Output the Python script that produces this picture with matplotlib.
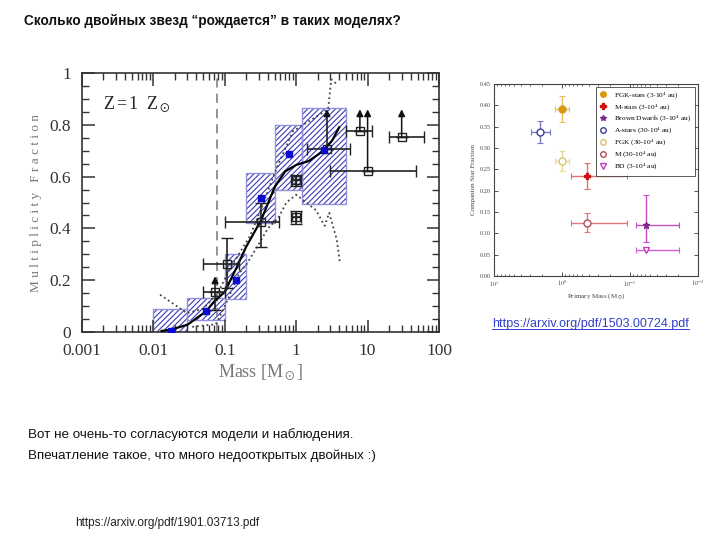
import matplotlib
matplotlib.use('Agg')
import matplotlib.pyplot as plt
from matplotlib.lines import Line2D
from matplotlib.patches import Rectangle
from matplotlib.ticker import LogLocator, NullFormatter

plt.rcParams['mathtext.fontset'] = 'stix'
plt.rcParams['hatch.linewidth'] = 0.8

# ---- left panel: simulation vs observations ----
box_x0 = [0.01, 0.03, 0.1, 0.2, 0.5, 1.2]
box_x1 = [0.03, 0.1, 0.2, 0.5, 1.2, 5.0]
box_y0 = [0.0, 0.045, 0.127, 0.42, 0.547, 0.495]
box_y1 = [0.09, 0.13, 0.30, 0.615, 0.80, 0.863]

sim_x = [0.0175, 0.0547, 0.144, 0.318, 0.783, 2.42]
sim_y = [0.003, 0.08, 0.202, 0.517, 0.688, 0.704]

fit_x = [0.013, 0.0175, 0.03, 0.0547, 0.07, 0.1, 0.144, 0.2, 0.32, 0.5, 0.7, 1.0, 1.5, 2.42, 3.2, 4.0]
fit_y = [0.004, 0.009, 0.028, 0.08, 0.116, 0.155, 0.245, 0.33, 0.43, 0.56, 0.62, 0.645, 0.66, 0.70, 0.74, 0.79]

up_x = [0.0124, 0.0212, 0.0295, 0.05, 0.08, 0.118, 0.225, 0.34, 0.5, 0.9, 2.8, 3.1, 3.8]
up_y = [0.144, 0.10, 0.073, 0.09, 0.15, 0.245, 0.37, 0.49, 0.615, 0.775, 0.86, 0.975, 0.955]

lo_x = [0.035, 0.075, 0.1, 0.16, 0.2, 0.3, 0.4, 0.56, 0.73, 1.0, 1.9, 2.5, 2.9, 3.7, 4.1]
lo_y = [0.02, 0.03, 0.1, 0.228, 0.26, 0.34, 0.40, 0.44, 0.50, 0.53, 0.47, 0.41, 0.46, 0.357, 0.266]

obs_x = [0.073, 0.106, 0.32, 1.0, 1.0, 2.7, 7.8, 10.0, 30.0]
obs_y = [0.155, 0.264, 0.425, 0.585, 0.443, 0.706, 0.775, 0.623, 0.753]
obs_xlo = [0.05, 0.05, 0.1, 0.85, 0.85, 1.4, 5.0, 3.0, 20.0]
obs_xhi = [0.1, 0.16, 0.57, 1.18, 1.18, 5.6, 11.5, 48.0, 61.0]
obs_ylo = [0.086, 0.17, 0.33, 0.565, 0.418, 0.706, 0.775, 0.623, 0.753]
obs_yhi = [0.155, 0.363, 0.50, 0.605, 0.468, 0.706, 0.775, 0.623, 0.753]
arrow_x = [0.073, 2.7, 7.8, 10.0, 30.0]
arrow_y0 = [0.155, 0.706, 0.775, 0.623, 0.753]
arrow_y1 = [0.215, 0.86, 0.86, 0.86, 0.86]

left_xticks = [0.001, 0.01, 0.1, 1, 10, 100]
left_xlabels = ['0.001', '0.01', '0.1', '1', '10', '100']
left_yticks = [0, 0.2, 0.4, 0.6, 0.8, 1.0]
left_ylabels = ['0', '0.2', '0.4', '0.6', '0.8', '1']

# ---- right panel: companion star fraction ----
cs_labels = ['FGK-stars (3-10$^4$ au)', 'M-stars (3-10$^4$ au)', 'Brown Dwarfs (3-10$^4$ au)',
             'A-stars (30-10$^4$ au)', 'FGK (30-10$^4$ au)', 'M (30-10$^4$ au)', 'BD (3-10$^4$ au)']
cs_x = [1.0, 0.434, 0.059, 2.1, 1.0, 0.434, 0.059]
cs_y = [0.392, 0.235, 0.12, 0.338, 0.27, 0.124, 0.06]
cs_xlo = [0.8, 0.111, 0.019, 1.51, 0.78, 0.111, 0.019]
cs_xhi = [1.25, 0.74, 0.081, 2.88, 1.27, 0.74, 0.081]
cs_ylo = [0.362, 0.205, 0.08, 0.312, 0.246, 0.102, 0.06]
cs_yhi = [0.422, 0.266, 0.19, 0.364, 0.294, 0.147, 0.06]
cs_markers = ['o', 'P', '*', 'o', 'o', 'o', 'v']
cs_colors = ['#d99a10', '#cc1111', '#7a2a8a', '#404098', '#d8c070', '#b05060', '#c040c0']
cs_ecolors = ['#e8c060', '#e07070', '#c050c0', '#7878c0', '#e8d890', '#e07878', '#d060d0']
cs_filled = [True, True, True, False, False, False, False]
right_yticks = [0.0, 0.05, 0.10, 0.15, 0.20, 0.25, 0.30, 0.35, 0.40, 0.45]
right_xticks = [10, 1, 0.1, 0.01]
right_xlabels = ['$10^1$', '$10^0$', '$10^{-1}$', '$10^{-2}$']

fig = plt.figure(figsize=(7.2, 5.4), dpi=100)

# ---------------- left panel ----------------
ax = fig.add_axes([82 / 720, 1 - 332 / 540, 357 / 720, 259 / 540])
ax.set_xscale('log')
ax.set_xlim(0.001, 100)
ax.set_ylim(0, 1)

for x0, x1, y0, y1 in zip(box_x0, box_x1, box_y0, box_y1):
    ax.add_patch(Rectangle((x0, y0), x1 - x0, y1 - y0, facecolor='none',
                           edgecolor='#3a3ab4', hatch='//////', lw=0, zorder=1))
    ax.add_patch(Rectangle((x0, y0), x1 - x0, y1 - y0, facecolor='none',
                           edgecolor='#9090dc', lw=1.0, zorder=1.5))

ax.axvline(0.077, color='#777777', ls=(0, (6, 4)), lw=1.1, zorder=2)
ax.plot(up_x, up_y, ls=':', color='#444444', lw=1.3, zorder=2)
ax.plot(lo_x, lo_y, ls=':', color='#444444', lw=1.3, zorder=2)
ax.plot(fit_x, fit_y, color='black', lw=1.6, zorder=3)

xerr = [[x - lo for x, lo in zip(obs_x, obs_xlo)], [hi - x for x, hi in zip(obs_x, obs_xhi)]]
yerr = [[y - lo for y, lo in zip(obs_y, obs_ylo)], [hi - y for y, hi in zip(obs_y, obs_yhi)]]
ax.errorbar(obs_x, obs_y, xerr=xerr, yerr=yerr, fmt='s', ms=5.5, mfc='none', mec='#222222',
            ecolor='#222222', elinewidth=1.2, capsize=4, capthick=1.1, mew=1.0, zorder=4)
ax.plot([1.0, 1.0], [0.585, 0.443], ls='none', marker='+', ms=7, color='#222222', zorder=5)
for x, y0, y1 in zip(arrow_x, arrow_y0, arrow_y1):
    ax.annotate('', xy=(x, y1), xytext=(x, y0),
                arrowprops=dict(arrowstyle='-|>', color='#111111', lw=1.1,
                                mutation_scale=10, shrinkA=0, shrinkB=0), zorder=5)

ax.plot(sim_x, sim_y, 's', ms=5, color='#0a0ad0', zorder=6)
ax.text(0.002, 0.88, r'Z$\,$=$\,$1  Z$_\odot$', fontsize=13, family='Liberation Serif',
        color='#222222', va='center')

ax.set_xticks(left_xticks)
ax.set_xticklabels(left_xlabels)
ax.xaxis.set_minor_locator(LogLocator(base=10, subs=range(2, 10), numticks=20))
ax.xaxis.set_minor_formatter(NullFormatter())
ax.set_yticks(left_yticks)
ax.set_yticklabels(left_ylabels)
ax.set_yticks([i * 0.05 for i in range(21)], minor=True)
ax.tick_params(which='both', direction='in', top=True, right=True, color='#333333')
ax.tick_params(which='major', length=9, width=1.1, labelsize=12.5, labelcolor='#333333')
ax.tick_params(axis='x', which='major', pad=8)
ax.tick_params(axis='y', which='major', pad=8)
ax.tick_params(which='minor', length=5, width=1.0)
for lab in ax.get_xticklabels() + ax.get_yticklabels():
    lab.set_family('Liberation Serif')
for s in ax.spines.values():
    s.set_color('#333333')
    s.set_linewidth(1.2)
ax.set_xlabel(r'Mass [M$_\odot$]', fontsize=13, family='Liberation Serif', color='#777777', labelpad=2)
ax.set_ylabel('M u l t i p l i c i t y   F r a c t i o n', fontsize=9.5, family='Liberation Serif',
              color='#777777', labelpad=5)

# ---------------- right panel ----------------
bx = fig.add_axes([494 / 720, 1 - 276 / 540, 204 / 720, 192 / 540])
bx.set_xscale('log')
bx.set_xlim(10, 0.01)
bx.set_ylim(0, 0.45)
handles = []
for i in range(len(cs_x)):
    fc = cs_colors[i] if cs_filled[i] else 'white'
    bx.errorbar([cs_x[i]], [cs_y[i]],
                xerr=[[cs_x[i] - cs_xlo[i]], [cs_xhi[i] - cs_x[i]]],
                yerr=[[cs_y[i] - cs_ylo[i]], [cs_yhi[i] - cs_y[i]]],
                fmt='none', ecolor=cs_ecolors[i], elinewidth=1.0, capsize=2, capthick=0.8, zorder=3)
    h, = bx.plot([cs_x[i]], [cs_y[i]], ls='none', marker=cs_markers[i], ms=5, mfc=fc,
                 mec=cs_colors[i], mew=1.0, label=cs_labels[i], zorder=4)
    handles.append(h)
leg = bx.legend(handles=handles, loc='upper right', frameon=True, fancybox=False,
                edgecolor='#333333', borderpad=0.5, labelspacing=0.22, handletextpad=1.0,
                handlelength=1.0, borderaxespad=0.35, markerscale=0.8,
                prop={'family': 'Liberation Serif', 'size': 5.3})
leg.get_frame().set_linewidth(0.7)
bx.set_xticks(right_xticks)
bx.set_xticklabels(right_xlabels)
bx.xaxis.set_minor_locator(LogLocator(base=10, subs=range(2, 10), numticks=20))
bx.xaxis.set_minor_formatter(NullFormatter())
bx.set_yticks(right_yticks)
bx.set_yticklabels(['%.2f' % v for v in right_yticks])
bx.tick_params(which='both', direction='in', top=True, right=True, color='#333333')
bx.tick_params(which='major', length=3, width=0.6, labelsize=4.5, labelcolor='#444444', pad=2)
bx.tick_params(which='minor', length=1.5, width=0.5)
for lab in bx.get_xticklabels() + bx.get_yticklabels():
    lab.set_family('Liberation Serif')
for s in bx.spines.values():
    s.set_color('#444444')
    s.set_linewidth(0.8)
bx.set_xlabel(r'Primary Mass (M$_\odot$)', fontsize=5, family='Liberation Serif', color='#444444', labelpad=2)
bx.set_ylabel('Companion Star Fraction', fontsize=5, family='Liberation Serif', color='#444444', labelpad=3)

# ---------------- slide texts ----------------
fig.text(24 / 720, 1 - 21 / 540, 'Сколько двойных звезд “рождается” в таких моделях?',
         fontsize=9.8, weight='bold', family='Liberation Sans', va='center', ha='left', color='#111111')
fig.text(28 / 720, 1 - 435 / 540, 'Вот не очень-то согласуются модели и наблюдения.',
         fontsize=9.6, family='Liberation Sans', va='center', ha='left', color='#111111')
fig.text(28 / 720, 1 - 456 / 540, 'Впечатление такое, что много недооткрытых двойных :)',
         fontsize=9.6, family='Liberation Sans', va='center', ha='left', color='#111111')
fig.text(75 / 720, 1 - 523 / 540, 'https://arxiv.org/pdf/1901.03713.pdf',
         fontsize=8.5, family='Liberation Sans', va='center', ha='left', color='#222222')
link = fig.text(492 / 720, 1 - 324 / 540, 'https://arxiv.org/pdf/1503.00724.pdf',
                fontsize=9, family='Liberation Sans', va='center', ha='left', color='#3040c8')

fig.canvas.draw()
bb = link.get_window_extent().transformed(fig.transFigure.inverted())
fig.add_artist(Line2D([bb.x0, bb.x1], [bb.y0 + 0.002, bb.y0 + 0.002], transform=fig.transFigure,
                      color='#3040c8', lw=0.7))

fig.savefig('out.png', dpi=100)
